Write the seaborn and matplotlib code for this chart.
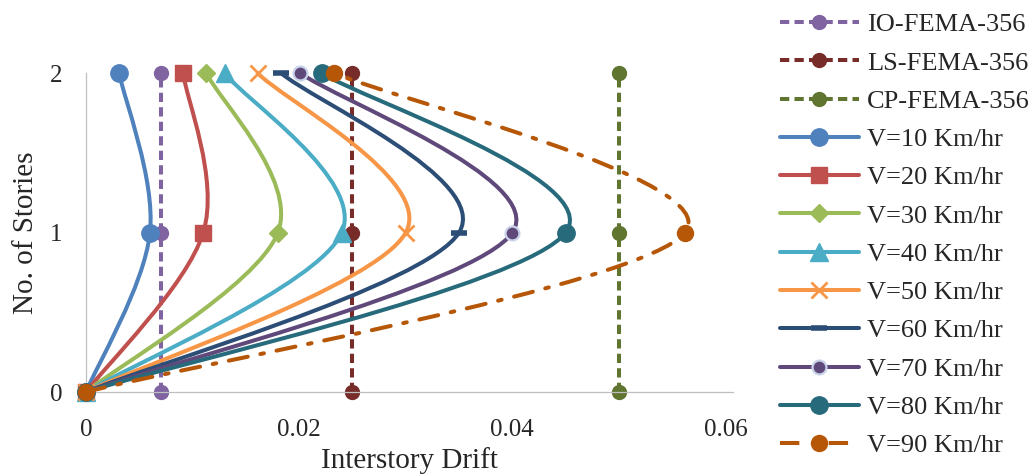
import matplotlib
matplotlib.use("Agg")
import matplotlib.pyplot as plt
from matplotlib.path import Path
from matplotlib.patches import PathPatch
from matplotlib.lines import Line2D
import seaborn as sns
import numpy as np

# data
stories = [0, 1, 2]

fema_labels = ["IO-FEMA-356", "LS-FEMA-356", "CP-FEMA-356"]
io_drift = [0.007, 0.007, 0.007]
ls_drift = [0.025, 0.025, 0.025]
cp_drift = [0.05, 0.05, 0.05]

speed_labels = ["V=10 Km/hr", "V=20 Km/hr", "V=30 Km/hr", "V=40 Km/hr", "V=50 Km/hr",
                "V=60 Km/hr", "V=70 Km/hr", "V=80 Km/hr", "V=90 Km/hr"]
v10 = [0, 0.0060, 0.0031]
v20 = [0, 0.0110, 0.0091]
v30 = [0, 0.0180, 0.0113]
v40 = [0, 0.0240, 0.0130]
v50 = [0, 0.0300, 0.0161]
v60 = [0, 0.0350, 0.0183]
v70 = [0, 0.0400, 0.0201]
v80 = [0, 0.0450, 0.0221]
v90 = [0, 0.0562, 0.0233]

x_ticks = [0, 0.02, 0.04, 0.06]
x_tick_labels = ["0", "0.02", "0.04", "0.06"]
y_ticks = [0, 1, 2]

sns.set_style("white")
plt.rcParams['font.family'] = ['Liberation Serif', 'DejaVu Serif']


def smooth_path(xs, ys):
    # Excel style smoothed line: cubic bezier, catmull-rom tangents / 6
    pts = np.column_stack([xs, ys]).astype(float)
    n = len(pts)
    tang = []
    for i in range(n):
        a = pts[max(i - 1, 0)]
        b = pts[min(i + 1, n - 1)]
        tang.append((b - a) / 6.0)
    verts = [pts[0]]
    codes = [Path.MOVETO]
    for i in range(n - 1):
        verts += [pts[i] + tang[i], pts[i + 1] - tang[i + 1], pts[i + 1]]
        codes += [Path.CURVE4] * 3
    return Path(verts, codes)


LW = 2.9
fema_dash = (0, (2.3, 1.3))
v90_dash = (0, (4.8, 3.2, 0.9, 3.2))

fema_styles = [
    dict(color="#8064A2", marker="o", ms=10),
    dict(color="#772C2A", marker="o", ms=10),
    dict(color="#5F7530", marker="o", ms=10),
]
speed_styles = [
    dict(color="#4F81BD", marker="o", ms=12.5, mec="#4F81BD", mew=1, ls="-"),
    dict(color="#C0504D", marker="s", ms=11.5, mec="#C0504D", mew=1, ls="-"),
    dict(color="#9BBB59", marker="D", ms=9, mec="#9BBB59", mew=1, ls="-"),
    dict(color="#4BACC6", marker="^", ms=12.5, mec="#4BACC6", mew=1, ls="-"),
    dict(color="#F79646", marker="x", ms=11, mec="#F79646", mew=2, ls="-"),
    dict(color="#2C4D75", marker="_", ms=11.5, mec="#2C4D75", mew=4, ls="-"),
    dict(color="#5F497A", marker="o", ms=10, mec="#C9D3EA", mew=1.6, ls="-"),
    dict(color="#276A7C", marker="o", ms=12.5, mec="#276A7C", mew=1, ls="-"),
    dict(color="#B65708", marker="o", ms=11.5, mec="#B65708", mew=1, ls=v90_dash),
]

fig = plt.figure(figsize=(10.34, 4.75), dpi=100)
ax = fig.add_axes([0.0832, 0.1747, 0.6257, 0.6716])

handles = []
z = 2.0
for drift, st in zip([io_drift, ls_drift, cp_drift], fema_styles):
    sns.lineplot(x=drift, y=stories, estimator=None, sort=False, ax=ax,
                 color=st["color"], linewidth=LW, linestyle=fema_dash,
                 marker=st["marker"], markersize=st["ms"], markeredgecolor=st["color"],
                 markeredgewidth=1, clip_on=False, zorder=z)
    handles.append(Line2D([], [], color=st["color"], lw=LW, ls=fema_dash,
                          marker=st["marker"], ms=st["ms"], mec=st["color"]))
    z += 0.1

for drift, st in zip([v10, v20, v30, v40, v50, v60, v70, v80, v90], speed_styles):
    patch = PathPatch(smooth_path(drift, stories), facecolor="none", edgecolor=st["color"],
                      linewidth=LW, linestyle=st["ls"], capstyle="round",
                      clip_on=False, zorder=z)
    ax.add_patch(patch)
    sns.lineplot(x=drift, y=stories, estimator=None, sort=False, ax=ax,
                 linestyle="none", marker=st["marker"], markersize=st["ms"],
                 color=st["color"], markeredgecolor=st["mec"], markeredgewidth=st["mew"],
                 clip_on=False, zorder=z + 0.05)
    handles.append(Line2D([], [], color=st["color"], lw=LW, ls=st["ls"],
                          marker=st["marker"], ms=st["ms"], mec=st["mec"], mew=st["mew"]))
    z += 0.1

ax.set_xlim(0, 0.0607)
ax.set_ylim(0, 2)
ax.set_xticks(x_ticks)
ax.set_xticklabels(x_tick_labels)
ax.set_yticks(y_ticks)
ax.tick_params(axis="x", length=0, pad=19.5, labelsize=18)
ax.tick_params(axis="y", length=0, pad=17, labelsize=18)

for side in ["top", "right"]:
    ax.spines[side].set_visible(False)
for side in ["left", "bottom"]:
    ax.spines[side].set_color("#BFBFBF")
    ax.spines[side].set_linewidth(0.9)

ax.set_xlabel("Interstory Drift", fontsize=21)
ax.set_ylabel("No. of Stories", fontsize=21)
ax.xaxis.set_label_coords(0.5, -0.172)
ax.yaxis.set_label_coords(-0.072, 0.5)

leg = fig.legend(handles, fema_labels + speed_labels, loc="center left",
                 bbox_to_anchor=(0.754, 0.505), frameon=False, fontsize=19,
                 handlelength=3.0, handletextpad=0.3, labelspacing=0.56,
                 borderpad=0, borderaxespad=0, numpoints=1)

fig.savefig("out.png", dpi=100)
